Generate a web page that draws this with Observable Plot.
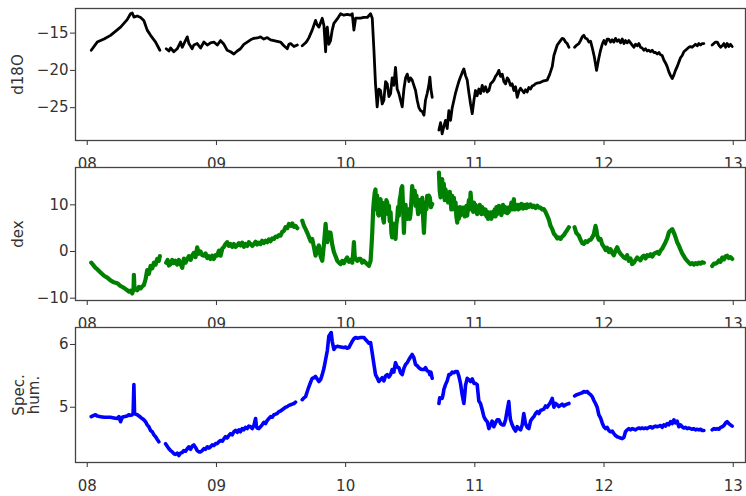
<!DOCTYPE html>
<html>
<head>
<meta charset="utf-8">
<script src="https://cdn.jsdelivr.net/npm/d3@7"></script>
<script src="https://cdn.jsdelivr.net/npm/@observablehq/plot@0.6"></script>
<style>
  html, body { margin: 0; padding: 0; background: white; }
  #chart { position: relative; width: 746px; height: 496px; overflow: hidden; background: white; }
  #chart svg { position: absolute; left: 0; }
</style>
</head>
<body>
<div id="chart"></div>
<script>
// x: day of month (fractional); null value = gap in record
const dayTicks = [8, 9, 10, 11, 12, 13];
const dayLabels = ["08", "09", "10", "11", "12", "13"];

const d18oTicks = [-25, -20, -15];
const dexTicks = [-10, 0, 10];
const humTicks = [5, 6];

const d18o = [
  [8.031,-17.3],[8.077,-16.2],[8.130,-15.8],[8.180,-15.3],[8.258,-14.2],[8.309,-13.2],[8.335,-12.4],[8.348,-12.3],
  [8.361,-12.85],[8.387,-12.7],[8.413,-12.9],[8.438,-13.3],[8.464,-14.6],[8.490,-15.3],[8.529,-16.2],[8.562,-17.3],
  [8.585,null],
  [8.611,-17.1],[8.632,-17.4],[8.645,-17.0],[8.670,-17.5],[8.696,-17.1],[8.722,-16.2],[8.735,-16.9],[8.774,-15.5],
  [8.787,-16.4],[8.812,-17.1],[8.825,-16.6],[8.851,-16.4],[8.877,-17.0],[8.903,-16.2],[8.929,-16.6],[8.954,-16.3],
  [8.980,-16.2],[9.006,-16.6],[9.032,-16.0],[9.058,-16.5],[9.083,-17.3],[9.109,-17.5],[9.135,-17.8],[9.161,-17.4],
  [9.186,-17.1],[9.212,-16.5],[9.238,-16.2],[9.264,-15.9],[9.290,-15.7],[9.328,-15.6],[9.341,-15.5],[9.367,-15.8],
  [9.393,-15.6],[9.419,-15.9],[9.445,-16.0],[9.470,-16.1],[9.496,-16.2],[9.522,-16.7],[9.548,-17.1],[9.561,-16.5],
  [9.574,-16.4],[9.600,-16.8],[9.626,-16.6],
  [9.645,null],
  [9.664,-16.7],[9.690,-16.3],[9.703,-16.0],[9.716,-15.6],[9.741,-14.6],[9.767,-13.3],[9.780,-13.9],[9.793,-14.2],
  [9.819,-13.0],[9.832,-14.0],[9.845,-17.5],[9.852,-14.5],[9.858,-14.2],[9.870,-16.5],[9.883,-16.0],[9.896,-14.6],
  [9.909,-13.7],[9.935,-13.1],[9.961,-12.4],[9.986,-12.6],[10.012,-12.5],[10.038,-12.6],[10.051,-12.4],[10.064,-14.6],
  [10.077,-13.0],[10.115,-13.0],[10.141,-12.9],[10.167,-12.9],[10.193,-12.4],[10.206,-13.0],[10.219,-17.3],[10.231,-21.8],
  [10.244,-24.9],[10.257,-22.5],[10.270,-22.7],[10.283,-24.5],[10.296,-24.0],[10.309,-21.5],[10.322,-21.8],[10.335,-23.5],
  [10.348,-23.1],[10.360,-21.0],[10.373,-22.0],[10.386,-19.6],[10.399,-22.5],[10.412,-23.1],[10.425,-24.0],[10.438,-24.9],
  [10.451,-22.5],[10.464,-21.0],[10.477,-20.5],[10.490,-21.5],[10.502,-21.0],[10.515,-21.3],[10.528,-22.0],[10.541,-22.7],
  [10.554,-24.0],[10.567,-25.0],[10.580,-25.4],[10.593,-25.5],[10.606,-26.0],[10.618,-24.0],[10.631,-23.1],[10.644,-22.0],
  [10.652,-20.9],[10.660,-22.5],[10.670,-23.6],
  [10.695,null],
  [10.722,-28.0],[10.735,-27.0],[10.747,-28.5],[10.760,-27.5],[10.773,-26.7],[10.786,-27.8],[10.799,-25.4],[10.812,-26.7],
  [10.825,-25.0],[10.838,-24.0],[10.851,-23.0],[10.864,-22.2],[10.876,-21.5],[10.889,-20.9],[10.902,-20.3],[10.915,-19.8],
  [10.928,-20.7],[10.941,-21.3],[10.954,-23.0],[10.967,-24.5],[10.980,-25.8],[10.993,-24.0],[11.005,-22.7],[11.018,-23.4],
  [11.031,-22.5],[11.044,-23.1],[11.057,-22.0],[11.070,-22.8],[11.083,-22.2],[11.096,-22.9],[11.109,-22.7],[11.122,-21.8],
  [11.134,-21.6],[11.147,-21.3],[11.160,-20.8],[11.173,-20.5],[11.186,-20.0],[11.199,-20.8],[11.212,-20.5],[11.225,-21.5],
  [11.238,-21.8],[11.251,-21.0],[11.263,-21.3],[11.276,-22.0],[11.289,-21.8],[11.302,-22.7],[11.315,-22.2],[11.328,-23.6],
  [11.341,-22.8],[11.354,-22.4],[11.367,-22.7],[11.380,-23.0],[11.392,-22.6],[11.405,-22.9],[11.418,-22.3],[11.431,-22.5],
  [11.444,-22.1],[11.457,-22.0],[11.470,-21.8],[11.483,-21.7],[11.509,-21.6],[11.534,-21.4],[11.560,-21.3],[11.580,-20.5],
  [11.599,-19.5],[11.612,-18.0],[11.625,-17.3],[11.638,-16.6],[11.663,-16.0],[11.676,-15.7],[11.689,-15.8],[11.702,-16.2],
  [11.715,-16.4],[11.728,-16.9],
  [11.750,null],
  [11.772,-16.9],[11.789,-16.6],[11.805,-16.4],[11.818,-16.0],[11.831,-15.5],[11.844,-15.3],[11.857,-15.7],[11.870,-15.8],
  [11.883,-16.2],[11.896,-16.1],[11.908,-16.9],[11.925,-18.2],[11.942,-20.0],[11.958,-18.5],[11.973,-17.3],[11.986,-16.5],
  [11.999,-16.0],[12.012,-16.5],[12.024,-15.8],[12.037,-15.8],[12.050,-16.2],[12.063,-15.9],[12.076,-16.2],[12.089,-15.7],
  [12.102,-16.1],[12.115,-15.9],[12.128,-16.3],[12.141,-15.8],[12.154,-16.4],[12.166,-16.0],[12.179,-16.3],[12.192,-16.0],
  [12.205,-16.3],[12.218,-16.6],[12.231,-16.9],[12.244,-16.5],[12.257,-16.7],[12.270,-16.4],[12.282,-16.9],[12.295,-17.0],
  [12.308,-17.3],[12.321,-17.1],[12.334,-17.4],[12.347,-17.3],[12.360,-17.5],[12.373,-17.3],[12.386,-17.6],[12.399,-17.6],
  [12.412,-17.8],[12.425,-17.6],[12.437,-17.9],[12.450,-18.0],[12.463,-18.6],[12.476,-19.0],[12.489,-19.5],[12.502,-20.2],
  [12.515,-20.7],[12.528,-21.1],[12.541,-20.6],[12.553,-20.0],[12.566,-19.5],[12.579,-18.9],[12.592,-18.3],[12.605,-18.0],
  [12.618,-17.5],[12.631,-17.3],[12.644,-17.1],[12.657,-16.9],[12.669,-16.8],[12.682,-16.9],[12.695,-16.7],[12.708,-16.5],
  [12.721,-16.7],[12.734,-16.4],[12.747,-16.6],[12.760,-16.4],[12.773,-16.4],
  [12.805,null],
  [12.837,-16.6],[12.850,-16.4],[12.863,-16.2],[12.876,-16.2],[12.889,-16.6],[12.902,-16.9],[12.915,-16.7],[12.928,-16.4],
  [12.941,-16.9],[12.953,-16.4],[12.966,-16.8],[12.979,-16.5],[12.992,-16.8]
];

const dex = [
  [8.031,-2.4],[8.064,-3.5],[8.077,-3.8],[8.103,-4.5],[8.130,-5.2],[8.155,-5.6],[8.180,-6.2],[8.206,-6.6],[8.232,-6.8],
  [8.258,-7.4],[8.284,-7.8],[8.309,-8.3],[8.322,-8.6],[8.335,-8.4],[8.348,-9.0],[8.358,-8.0],[8.361,-5.0],[8.366,-8.2],
  [8.374,-7.9],[8.387,-8.3],[8.400,-7.6],[8.413,-7.9],[8.425,-7.5],[8.438,-7.2],[8.451,-6.0],[8.464,-4.0],[8.477,-4.8],
  [8.490,-3.1],[8.503,-3.6],[8.516,-2.4],[8.529,-2.8],[8.541,-1.6],[8.554,-2.0],[8.562,-1.0],
  [8.585,null],
  [8.611,-2.4],[8.622,-1.8],[8.632,-3.0],[8.645,-2.7],[8.658,-1.8],[8.670,-2.5],[8.683,-2.0],[8.696,-2.8],[8.709,-1.8],
  [8.722,-2.6],[8.735,-3.5],[8.748,-1.5],[8.761,-2.4],[8.774,-1.6],[8.787,-1.0],[8.800,-1.8],[8.812,-0.9],[8.825,-0.3],
  [8.838,-1.2],[8.851,0.9],[8.864,-0.5],[8.877,0.0],[8.890,-0.8],[8.903,-0.9],[8.916,-0.4],[8.929,-1.4],[8.942,-1.0],
  [8.954,-1.6],[8.967,-0.9],[8.980,-1.6],[8.993,-0.8],[9.006,-0.9],[9.019,0.2],[9.032,-0.9],[9.045,0.6],[9.058,1.0],
  [9.070,1.6],[9.083,2.0],[9.096,1.2],[9.109,1.6],[9.122,1.0],[9.135,1.6],[9.148,1.0],[9.161,1.3],[9.174,1.8],
  [9.186,1.3],[9.199,1.9],[9.212,1.0],[9.225,1.6],[9.238,1.2],[9.251,2.0],[9.264,1.6],[9.277,1.2],[9.290,1.6],
  [9.303,2.1],[9.315,1.5],[9.328,1.9],[9.341,1.6],[9.354,2.3],[9.367,1.8],[9.380,2.3],[9.393,2.0],[9.406,2.6],
  [9.419,2.2],[9.432,2.8],[9.445,2.7],[9.458,3.2],[9.470,3.1],[9.483,3.5],[9.496,3.4],[9.509,4.2],[9.522,4.4],
  [9.535,5.2],[9.548,5.0],[9.561,5.9],[9.574,5.5],[9.587,6.0],[9.600,5.3],[9.612,5.5],[9.626,5.0],
  [9.645,null],
  [9.664,6.6],[9.677,5.5],[9.690,4.8],[9.703,4.0],[9.716,3.1],[9.729,2.2],[9.741,2.7],[9.754,1.0],[9.767,-0.9],
  [9.780,0.5],[9.793,1.3],[9.806,-1.0],[9.819,-2.0],[9.832,1.5],[9.845,5.9],[9.852,3.0],[9.858,2.0],[9.870,4.1],
  [9.883,4.0],[9.896,1.5],[9.909,-0.1],[9.922,-1.0],[9.935,-2.0],[9.948,-2.4],[9.961,-2.7],[9.974,-2.0],[9.986,-2.5],
  [9.999,-1.8],[10.012,-1.3],[10.025,-2.2],[10.038,-1.8],[10.051,-2.4],[10.058,-0.5],[10.064,2.0],[10.070,-1.0],
  [10.077,-1.6],[10.090,-2.0],[10.102,-1.6],[10.115,-1.6],[10.128,-2.4],[10.141,-2.0],[10.154,-2.4],[10.167,-2.7],
  [10.180,-3.1],[10.193,-2.0],[10.200,1.0],[10.206,4.1],[10.213,9.0],[10.219,11.0],[10.225,12.6],[10.231,13.3],
  [10.237,9.0],[10.244,12.0],[10.250,8.0],[10.257,7.7],[10.264,11.0],[10.270,11.2],[10.277,9.0],[10.283,10.5],
  [10.290,7.0],[10.296,6.2],[10.303,10.0],[10.309,8.5],[10.315,11.0],[10.322,10.5],[10.328,8.0],[10.335,9.8],
  [10.341,6.5],[10.348,8.4],[10.354,4.0],[10.360,3.0],[10.367,6.0],[10.373,4.5],[10.380,5.0],[10.386,2.7],
  [10.393,6.0],[10.399,7.0],[10.405,9.5],[10.412,7.7],[10.418,11.0],[10.425,12.0],[10.431,13.5],[10.438,14.0],
  [10.444,10.0],[10.451,4.0],[10.457,8.0],[10.464,10.0],[10.470,7.5],[10.477,7.0],[10.483,8.5],[10.490,9.0],
  [10.496,7.0],[10.502,8.0],[10.509,11.0],[10.515,14.0],[10.522,12.0],[10.528,11.2],[10.535,13.0],[10.541,9.8],
  [10.548,12.0],[10.554,10.0],[10.561,8.0],[10.567,10.5],[10.573,11.0],[10.580,8.5],[10.586,9.5],[10.593,11.5],
  [10.600,7.0],[10.606,4.0],[10.612,7.5],[10.618,10.5],[10.625,9.0],[10.631,11.9],[10.638,10.0],[10.644,12.0],
  [10.652,11.5],[10.660,9.5],[10.670,10.2],
  [10.695,null],
  [10.722,16.9],[10.728,13.0],[10.735,11.6],[10.741,14.5],[10.747,15.5],[10.754,12.0],[10.760,14.5],[10.767,11.0],
  [10.773,13.3],[10.780,12.5],[10.786,12.0],[10.793,10.5],[10.799,11.2],[10.806,12.8],[10.812,11.2],[10.818,9.0],
  [10.825,11.9],[10.831,10.0],[10.838,11.5],[10.844,9.0],[10.851,10.5],[10.857,7.5],[10.864,6.2],[10.870,8.0],
  [10.876,7.0],[10.883,9.5],[10.889,7.7],[10.896,8.5],[10.902,9.4],[10.909,8.0],[10.915,9.4],[10.922,7.5],
  [10.928,8.2],[10.935,9.8],[10.941,7.7],[10.948,9.5],[10.954,11.0],[10.961,9.0],[10.967,12.6],[10.974,10.0],
  [10.980,10.5],[10.987,8.5],[10.993,10.5],[11.000,9.0],[11.005,10.0],[11.012,8.5],[11.018,8.0],[11.025,9.5],
  [11.031,8.5],[11.038,10.0],[11.044,9.4],[11.051,8.0],[11.057,9.5],[11.064,8.5],[11.070,9.1],[11.077,8.0],
  [11.083,9.0],[11.090,7.5],[11.096,8.5],[11.102,7.0],[11.109,8.0],[11.115,7.2],[11.122,8.4],[11.128,7.0],
  [11.134,7.7],[11.141,8.5],[11.147,8.0],[11.154,9.0],[11.160,7.5],[11.167,9.5],[11.173,8.0],[11.180,9.0],
  [11.186,9.8],[11.193,8.5],[11.199,9.5],[11.205,7.8],[11.212,8.5],[11.218,10.0],[11.225,9.0],[11.231,9.6],
  [11.238,8.4],[11.244,9.0],[11.251,8.2],[11.257,9.4],[11.263,8.5],[11.270,9.5],[11.276,9.0],[11.283,10.5],
  [11.289,9.0],[11.295,10.0],[11.302,11.2],[11.308,9.0],[11.315,9.8],[11.321,9.2],[11.328,10.0],[11.334,9.0],
  [11.341,9.1],[11.347,10.0],[11.354,9.4],[11.360,10.2],[11.367,10.1],[11.373,9.2],[11.379,9.8],[11.386,9.5],
  [11.392,10.0],[11.399,9.3],[11.405,10.1],[11.418,9.6],[11.431,10.1],[11.444,9.5],[11.457,9.8],[11.470,9.3],
  [11.483,9.8],[11.496,9.4],[11.509,9.4],[11.522,9.0],[11.534,9.1],[11.547,8.5],[11.560,7.7],[11.573,6.8],
  [11.586,5.5],[11.599,4.8],[11.612,3.8],[11.625,3.4],[11.638,2.8],[11.650,3.0],[11.663,2.7],[11.676,3.2],
  [11.689,3.5],[11.702,4.1],[11.715,4.6],[11.728,5.2],
  [11.750,null],
  [11.772,5.2],[11.785,4.0],[11.805,3.4],[11.818,2.5],[11.831,1.8],[11.844,1.6],[11.857,2.2],[11.870,2.0],
  [11.883,2.4],[11.896,2.5],[11.908,3.0],[11.921,3.7],[11.934,5.5],[11.942,4.5],[11.947,3.5],[11.960,2.5],
  [11.973,2.7],[11.986,1.5],[11.999,1.0],[12.012,0.3],[12.024,0.8],[12.037,-0.1],[12.050,0.5],[12.063,-0.3],
  [12.076,-0.8],[12.089,0.2],[12.102,0.9],[12.115,0.0],[12.128,-0.5],[12.141,-0.9],[12.154,-1.3],[12.166,-1.5],
  [12.179,-0.8],[12.192,-2.0],[12.205,-1.5],[12.218,-2.7],[12.231,-2.4],[12.244,-1.8],[12.257,-1.3],[12.270,-1.6],
  [12.282,-1.9],[12.295,-1.2],[12.308,-0.9],[12.321,-1.5],[12.334,-0.8],[12.347,-1.0],[12.360,-0.6],[12.373,-1.1],
  [12.386,-0.5],[12.399,-0.3],[12.412,-0.1],[12.425,-0.5],[12.437,0.2],[12.450,0.6],[12.463,1.3],[12.476,2.0],
  [12.489,2.8],[12.502,4.1],[12.515,4.5],[12.528,4.8],[12.541,4.0],[12.553,3.1],[12.566,2.0],[12.579,1.3],
  [12.592,0.4],[12.605,-0.4],[12.618,-1.0],[12.631,-1.6],[12.644,-2.0],[12.657,-2.4],[12.669,-2.7],[12.682,-2.5],
  [12.695,-2.8],[12.708,-2.5],[12.721,-2.7],[12.734,-2.4],[12.747,-2.6],[12.760,-2.3],[12.773,-2.4],
  [12.805,null],
  [12.837,-3.1],[12.850,-2.6],[12.863,-2.6],[12.876,-2.4],[12.889,-1.9],[12.902,-2.2],[12.915,-1.3],[12.928,-1.7],
  [12.941,-1.0],[12.953,-0.9],[12.966,-1.4],[12.979,-1.2],[12.992,-1.6]
];

const specHum = [
  [8.031,4.85],[8.051,4.87],[8.064,4.88],[8.077,4.86],[8.103,4.85],[8.130,4.84],[8.155,4.84],[8.180,4.84],[8.206,4.83],
  [8.232,4.82],[8.245,4.85],[8.258,4.77],[8.271,4.84],[8.284,4.85],[8.309,4.86],[8.322,4.88],[8.335,4.87],[8.348,4.88],
  [8.355,4.90],[8.361,5.36],[8.366,4.90],[8.374,4.89],[8.387,4.88],[8.400,4.86],[8.413,4.84],[8.425,4.82],[8.438,4.80],
  [8.451,4.77],[8.464,4.72],[8.477,4.69],[8.490,4.63],[8.503,4.61],[8.516,4.56],[8.529,4.53],[8.541,4.49],[8.554,4.45],
  [8.580,null],
  [8.606,4.42],[8.619,4.38],[8.632,4.34],[8.645,4.31],[8.658,4.29],[8.670,4.26],[8.683,4.25],[8.696,4.27],[8.709,4.23],
  [8.722,4.27],[8.735,4.28],[8.748,4.31],[8.761,4.30],[8.774,4.34],[8.787,4.37],[8.800,4.33],[8.812,4.38],[8.825,4.40],
  [8.838,4.36],[8.851,4.31],[8.864,4.29],[8.877,4.29],[8.890,4.31],[8.903,4.34],[8.916,4.33],[8.929,4.37],[8.942,4.35],
  [8.954,4.37],[8.967,4.40],[8.980,4.39],[8.993,4.42],[9.006,4.42],[9.019,4.45],[9.032,4.47],[9.045,4.46],[9.058,4.50],
  [9.070,4.53],[9.083,4.51],[9.096,4.55],[9.109,4.58],[9.122,4.56],[9.135,4.61],[9.148,4.63],[9.161,4.60],[9.174,4.64],
  [9.186,4.61],[9.199,4.66],[9.212,4.64],[9.225,4.68],[9.238,4.66],[9.251,4.70],[9.264,4.69],[9.277,4.66],[9.290,4.71],
  [9.303,4.82],[9.309,4.70],[9.315,4.67],[9.328,4.66],[9.341,4.69],[9.354,4.72],[9.367,4.76],[9.380,4.74],[9.393,4.79],
  [9.406,4.82],[9.419,4.85],[9.432,4.84],[9.445,4.88],[9.458,4.89],[9.470,4.90],[9.483,4.93],[9.496,4.94],[9.509,4.96],
  [9.522,4.98],[9.535,5.00],[9.548,5.01],[9.561,5.03],[9.574,5.04],[9.587,5.05],[9.600,5.06],[9.612,5.08],
  [9.640,null],
  [9.664,5.12],[9.677,5.15],[9.690,5.17],[9.703,5.25],[9.716,5.33],[9.729,5.40],[9.741,5.46],[9.754,5.47],[9.767,5.49],
  [9.780,5.45],[9.793,5.41],[9.806,5.44],[9.819,5.52],[9.832,5.62],[9.845,5.76],[9.858,5.90],[9.870,6.13],[9.888,6.19],
  [9.896,6.05],[9.909,5.92],[9.922,5.96],[9.935,5.97],[9.961,5.96],[9.986,5.95],[9.999,5.96],[10.012,5.94],[10.025,5.95],
  [10.038,6.00],[10.051,6.05],[10.064,6.09],[10.077,6.11],[10.090,6.10],[10.115,6.11],[10.141,6.11],[10.154,6.08],
  [10.167,6.05],[10.180,6.02],[10.193,6.03],[10.206,5.86],[10.219,5.68],[10.231,5.52],[10.244,5.47],[10.257,5.41],
  [10.270,5.44],[10.283,5.47],[10.296,5.42],[10.309,5.50],[10.322,5.52],[10.335,5.48],[10.348,5.52],[10.360,5.60],
  [10.373,5.56],[10.386,5.71],[10.399,5.64],[10.412,5.63],[10.425,5.55],[10.438,5.52],[10.451,5.62],[10.464,5.68],
  [10.477,5.71],[10.490,5.76],[10.502,5.80],[10.515,5.84],[10.528,5.79],[10.541,5.68],[10.554,5.66],[10.567,5.63],
  [10.580,5.61],[10.593,5.60],[10.606,5.60],[10.618,5.63],[10.631,5.58],[10.644,5.57],[10.652,5.52],[10.660,5.56],
  [10.670,5.46],
  [10.695,null],
  [10.722,5.06],[10.728,5.15],[10.735,5.14],[10.747,5.14],[10.754,5.20],[10.760,5.28],[10.773,5.36],[10.786,5.42],
  [10.799,5.52],[10.812,5.52],[10.825,5.56],[10.838,5.55],[10.851,5.57],[10.864,5.57],[10.876,5.50],[10.889,5.38],
  [10.902,5.20],[10.915,5.06],[10.922,5.20],[10.928,5.35],[10.941,5.46],[10.954,5.44],[10.967,5.41],[10.980,5.45],
  [10.993,5.38],[11.005,5.38],[11.018,5.36],[11.031,5.10],[11.044,5.06],[11.057,4.96],[11.070,4.85],[11.083,4.80],
  [11.096,4.77],[11.109,4.66],[11.122,4.72],[11.134,4.78],[11.147,4.69],[11.160,4.75],[11.173,4.80],[11.186,4.80],
  [11.199,4.74],[11.212,4.72],[11.225,4.72],[11.238,4.80],[11.251,4.96],[11.263,5.09],[11.270,4.90],[11.276,4.80],
  [11.289,4.72],[11.302,4.66],[11.315,4.62],[11.328,4.69],[11.341,4.66],[11.354,4.64],[11.367,4.72],[11.379,4.90],
  [11.392,4.74],[11.405,4.68],[11.418,4.66],[11.431,4.78],[11.444,4.82],[11.457,4.85],[11.470,4.90],[11.483,4.93],
  [11.496,4.90],[11.509,4.95],[11.522,4.96],[11.534,4.97],[11.547,5.02],[11.560,5.00],[11.573,5.04],[11.586,5.08],
  [11.599,5.14],[11.612,5.00],[11.625,5.06],[11.638,5.04],[11.650,5.01],[11.663,5.03],[11.676,5.05],[11.689,5.02],
  [11.702,5.04],[11.715,5.05],[11.728,5.06],
  [11.750,null],
  [11.772,5.18],[11.789,5.20],[11.805,5.21],[11.818,5.22],[11.831,5.23],[11.844,5.25],[11.857,5.24],[11.870,5.25],
  [11.883,5.22],[11.896,5.20],[11.908,5.17],[11.921,5.11],[11.934,5.06],[11.947,5.00],[11.960,4.88],[11.973,4.83],
  [11.986,4.75],[11.999,4.69],[12.012,4.66],[12.024,4.68],[12.037,4.63],[12.050,4.61],[12.063,4.62],[12.076,4.58],
  [12.089,4.55],[12.102,4.53],[12.115,4.52],[12.128,4.51],[12.141,4.50],[12.154,4.52],[12.166,4.61],[12.179,4.64],
  [12.192,4.66],[12.205,4.64],[12.218,4.66],[12.231,4.65],[12.244,4.64],[12.257,4.66],[12.270,4.67],[12.282,4.66],
  [12.295,4.67],[12.308,4.66],[12.321,4.67],[12.334,4.66],[12.347,4.68],[12.360,4.69],[12.373,4.67],[12.386,4.69],
  [12.399,4.70],[12.412,4.69],[12.425,4.70],[12.437,4.71],[12.450,4.68],[12.463,4.72],[12.476,4.70],[12.489,4.74],
  [12.502,4.72],[12.515,4.77],[12.528,4.74],[12.541,4.80],[12.553,4.75],[12.566,4.78],[12.579,4.69],[12.592,4.72],
  [12.605,4.69],[12.618,4.67],[12.631,4.68],[12.644,4.66],[12.657,4.67],[12.669,4.66],[12.682,4.65],[12.695,4.66],
  [12.708,4.64],[12.721,4.65],[12.734,4.64],[12.747,4.65],[12.760,4.63],[12.773,4.63],
  [12.805,null],
  [12.837,4.64],[12.850,4.66],[12.863,4.65],[12.876,4.66],[12.889,4.65],[12.902,4.68],[12.915,4.69],[12.928,4.71],
  [12.941,4.75],[12.953,4.77],[12.966,4.74],[12.979,4.72],[12.992,4.70]
];

function toRows(pairs) { return pairs.map(([t, v]) => ({t, v})); }

function panel(pairs, o) {
  const svg = Plot.plot({
    width: 746,
    height: o.height,
    marginTop: 8,
    marginBottom: o.mb,
    marginLeft: 75,
    marginRight: 1,
    style: {background: "none", fontFamily: "'DejaVu Sans', sans-serif", fontSize: "15px", color: "#333", overflow: "visible"},
    x: {domain: [7.909, 13.095], ticks: dayTicks, tickFormat: d => dayLabels[dayTicks.indexOf(d)], tickSize: 5, tickPadding: 13, label: null},
    y: {domain: o.yDomain, ticks: o.yTicks, tickFormat: d => d < 0 ? "\u2212" + Math.abs(d) : String(d), tickSize: 5, tickPadding: 2, label: null},
    marks: [
      Plot.frame({fill: "white", stroke: "none"}),
      Plot.line(toRows(pairs), {x: "t", y: "v", stroke: o.color, strokeWidth: o.sw, strokeLinejoin: "round", strokeLinecap: "round"}),
      Plot.frame({stroke: "#444", strokeWidth: 1.3}),
      Plot.text([o.label], {frameAnchor: "left", text: d => d, rotate: -90, dx: o.labelDx, textAnchor: "middle", lineAnchor: "middle", fontSize: 15, fill: "#333"})
    ]
  });
  svg.style.top = o.top + "px";
  return svg;
}

const chart = document.getElementById("chart");
chart.appendChild(panel(d18o, {top: 0, height: 175, mb: 35, yDomain: [-29.4, -11.7], yTicks: d18oTicks, color: "black", sw: 2.8, label: "d18O", labelDx: -57}));
chart.appendChild(panel(dex, {top: 159, height: 175, mb: 34, yDomain: [-10.5, 18], yTicks: dexTicks, color: "green", sw: 4.2, label: "dex", labelDx: -57}));
chart.appendChild(panel(specHum, {top: 319, height: 177, mb: 34, yDomain: [4.12, 6.27], yTicks: humTicks, color: "blue", sw: 3.6, label: "Spec.\nhum.", labelDx: -49}));
</script>
</body>
</html>
